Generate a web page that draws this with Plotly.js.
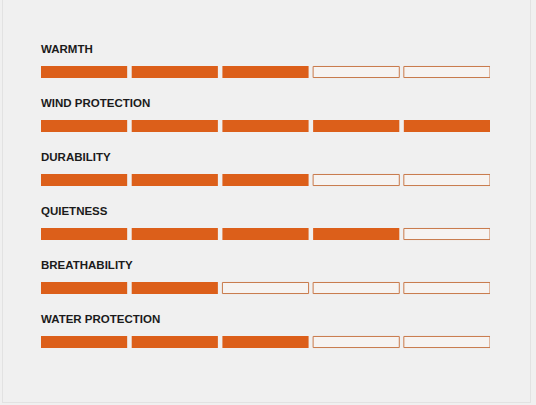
<!DOCTYPE html>
<html>
<head>
<meta charset="utf-8">
<script src="https://cdn.plot.ly/plotly-3.0.1.min.js"></script>
<style>
  html, body { margin: 0; padding: 0; background: #f0f0f0; }
  #wrap { position: relative; width: 536px; height: 405px; overflow: hidden; }
  #chart { width: 536px; height: 405px; }
  #frame { position: absolute; left: 2px; top: -2px; width: 529px; height: 405px;
           border: 1px solid #e2e2e2; pointer-events: none; box-sizing: border-box; }
</style>
</head>
<body>
<div id="wrap">
  <div id="chart"></div>
  <div id="frame"></div>
</div>
<script>
// Data
var categories = ['WARMTH', 'WIND PROTECTION', 'DURABILITY', 'QUIETNESS', 'BREATHABILITY', 'WATER PROTECTION'];
var ratings = [3, 5, 3, 4, 2, 3];
var maxRating = 5;

// Styling
var filledColor = '#dc5f1a';
var emptyFill = '#f6f3f1';
var emptyLine = '#c8794a';
var segWidth = 0.95;   // fraction of a unit occupied by a segment (rest is gap)

// Build segments from data
var fy = [], fx = [], fb = [];
var ey = [], ex = [], eb = [];
categories.forEach(function (c, k) {
  for (var i = 0; i < maxRating; i++) {
    if (i < ratings[k]) { fy.push(c); fx.push(segWidth); fb.push(i); }
    else { ey.push(c); ex.push(segWidth); eb.push(i); }
  }
});

var traces = [
  { type: 'bar', orientation: 'h', y: fy, x: fx, base: fb, width: 0.222,
    marker: { color: filledColor, line: { width: 0 } }, hoverinfo: 'skip', showlegend: false },
  { type: 'bar', orientation: 'h', y: ey, x: ex, base: eb, width: 0.205,
    marker: { color: emptyFill, line: { width: 1, color: emptyLine } }, hoverinfo: 'skip', showlegend: false }
];

var annotations = categories.map(function (c) {
  return { text: '<b>' + c + '</b>', xref: 'paper', x: 0, xanchor: 'left', xshift: -2,
           yref: 'y', y: c, yanchor: 'middle', yshift: 23, showarrow: false,
           font: { family: 'Liberation Sans, Arial, sans-serif', size: 11.5, color: '#1b1b1b' } };
});

var layout = {
  width: 536, height: 405,
  margin: { l: 41, r: 46, t: 45, b: 36, pad: 0 },
  paper_bgcolor: '#f0f0f0', plot_bgcolor: '#f0f0f0',
  barmode: 'overlay',
  xaxis: { range: [0, maxRating - 1 + segWidth], visible: false, fixedrange: true },
  yaxis: { type: 'category', categoryarray: categories, range: [5.5, -0.5], visible: false, fixedrange: true },
  annotations: annotations,
  showlegend: false
};

Plotly.newPlot('chart', traces, layout, { displayModeBar: false, staticPlot: true });
</script>
</body>
</html>
